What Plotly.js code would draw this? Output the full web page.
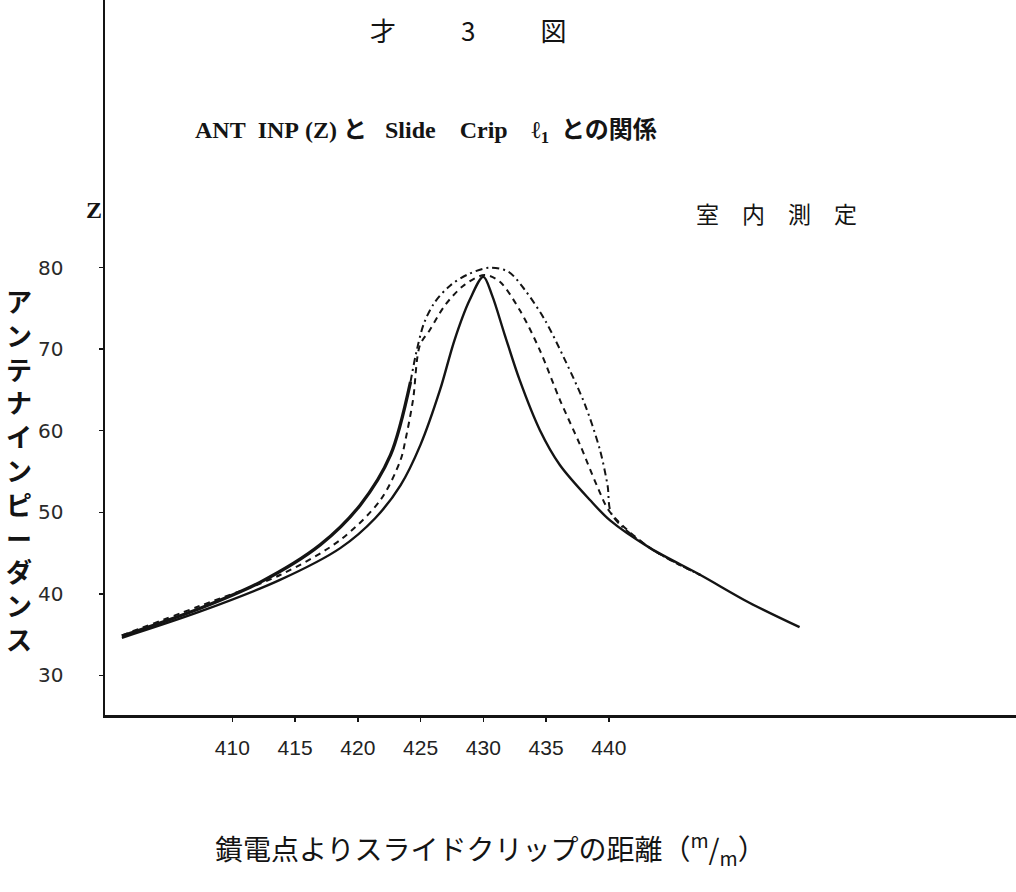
<!DOCTYPE html>
<html>
<head>
<meta charset="utf-8">
<script src="https://cdn.plot.ly/plotly-3.0.1.min.js"></script>
<style>html,body{margin:0;padding:0;background:#fff;}</style>
</head>
<body>
<div id="chart" style="width:1016px;height:892px;"></div>
<script>
// ---- data ----
const xTicks = [410, 415, 420, 425, 430, 435, 440];
const yTicks = [30, 40, 50, 60, 70, 80];

// narrow solid curve
const solidX = [401.2, 407.4, 413.8, 418.6, 421.4, 423.4, 425.0, 426.55, 427.7, 428.9, 430.0, 430.7, 431.7, 432.9, 434.5, 436.1, 438.5, 440.1, 443.3, 447.3, 451.2, 455.2];
const solidY = [34.6, 37.8, 41.7, 45.6, 49.3, 53.3, 58.3, 65.0, 71.1, 76.0, 78.9, 76.6, 71.8, 66.2, 60.1, 55.8, 51.5, 49.0, 45.6, 42.3, 38.9, 35.9];

// thick solid (left part) ending at the blob
const thickX = [401.2, 407.4, 412.2, 417.0, 420.2, 422.6, 424.2];
const thickY = [34.8, 38.2, 41.4, 46.0, 50.9, 57.0, 66.0];

// dash-dot continuation (outer wide curve)
const dashDotX = [424.2, 424.7, 425.3, 426.15, 427.35, 428.8, 430.5, 432.0, 433.3, 434.9, 436.5, 438.1, 439.3, 439.9, 440.25, 443.3, 447.3];
const dashDotY = [66.0, 69.9, 73.3, 75.8, 77.8, 79.2, 80.0, 79.5, 77.3, 73.6, 68.7, 63.2, 57.6, 53.3, 49.7, 45.6, 42.3];

// dashed curve (inner wide curve)
const dashX = [401.2, 407.4, 413.8, 418.6, 421.8, 423.4, 423.8, 424.4, 424.95, 425.75, 426.95, 428.5, 430.1, 431.3, 432.9, 434.5, 436.1, 437.7, 439.1, 440.1, 443.3, 447.3];
const dashY = [34.9, 38.5, 42.3, 46.6, 51.5, 56.4, 58.9, 63.8, 70.5, 72.4, 75.4, 77.9, 79.1, 78.3, 74.8, 69.9, 63.8, 58.3, 53.1, 50.0, 45.6, 42.3];

// ---- helpers for placing text in page pixels ----
const L = 105, W = 911, H = 715;
const px = x => (x - L) / W;
const py = y => (H - y) / H;

const ink = '#141414';
const sm = 0.9;

const traces = [
  {x: solidX, y: solidY, mode: 'lines', line: {color: ink, width: 2.4, shape: 'spline', smoothing: sm}, hoverinfo: 'skip'},
  {x: thickX, y: thickY, mode: 'lines', line: {color: ink, width: 3.3, shape: 'spline', smoothing: sm}, hoverinfo: 'skip'},
  {x: dashDotX, y: dashDotY, mode: 'lines', line: {color: ink, width: 2.0, dash: '7px,4px,2px,4px', shape: 'spline', smoothing: sm}, hoverinfo: 'skip'},
  {x: dashX, y: dashY, mode: 'lines', line: {color: ink, width: 2.0, dash: '6px,5px', shape: 'spline', smoothing: sm}, hoverinfo: 'skip'}
];

const jp = '"Noto Sans CJK JP", "Noto Sans CJK SC", sans-serif';

const layout = {
  width: 1016, height: 892,
  margin: {l: 105, r: 0, t: 0, b: 177, pad: 0},
  paper_bgcolor: '#fff', plot_bgcolor: '#fff',
  showlegend: false,
  xaxis: {
    range: [399.855, 472.445], showgrid: false, zeroline: false,
    showline: true, linecolor: ink, linewidth: 2.5,
    ticks: 'outside', ticklen: 4, tickwidth: 1.5, tickcolor: ink,
    tickvals: xTicks, ticktext: xTicks.map(String),
    tickfont: {family: '"Liberation Sans", Arial, sans-serif', size: 21, color: '#222'},
    ticklabelstandoff: 8
  },
  yaxis: {
    range: [25.126, 112.845], showgrid: false, zeroline: false,
    showline: true, linecolor: ink, linewidth: 2.5,
    ticks: 'outside', ticklen: 4, tickwidth: 1.5, tickcolor: ink,
    tickvals: yTicks, ticktext: yTicks.map(String),
    tickfont: {family: '"DejaVu Sans", sans-serif', size: 20, color: '#2a2a2a'},
    ticklabelstandoff: 31
  },
  annotations: [
    {text: '才\u3000\u3000\u20023\u3000\u3000\u2002図', xref: 'paper', yref: 'paper', x: px(468), y: py(29),
     xanchor: 'center', yanchor: 'middle', showarrow: false,
     font: {family: jp, size: 26, color: ink}},
    {text: 'ANT\u00a0\u00a0INP\u00a0(Z)\u00a0と\u00a0\u00a0\u00a0Slide\u00a0\u00a0\u00a0\u00a0Crip\u00a0\u00a0\u00a0\u00a0ℓ<sub>1</sub>\u00a0\u00a0との関係',
     xref: 'paper', yref: 'paper', x: px(426), y: py(132),
     xanchor: 'center', yanchor: 'middle', showarrow: false,
     font: {family: '"Liberation Serif", "Noto Sans CJK JP", serif', size: 24, color: ink, weight: 'bold'}},
    {text: '<b>Z</b>', xref: 'paper', yref: 'paper', x: px(94), y: py(210),
     xanchor: 'center', yanchor: 'middle', showarrow: false,
     font: {family: '"Liberation Serif", serif', size: 24, color: ink}},
    {text: '室\u3000内\u3000測\u3000定', xref: 'paper', yref: 'paper', x: px(776), y: py(213),
     xanchor: 'center', yanchor: 'middle', showarrow: false,
     font: {family: jp, size: 23, color: ink}},
    {text: 'ア<br>ン<br>テ<br>ナ<br>イ<br>ン<br>ピ<br>ー<br>ダ<br>ン<br>ス', xref: 'paper', yref: 'paper',
     x: px(19), y: py(470), xanchor: 'center', yanchor: 'middle', showarrow: false,
     font: {family: jp, size: 26, color: ink, weight: 'bold'}},
    {text: '鐀電点よりスライドクリップの距離（<sup>m</sup>/<sub>m</sub>）', xref: 'paper', yref: 'paper',
     x: px(490), y: py(848), xanchor: 'center', yanchor: 'middle', showarrow: false,
     font: {family: jp, size: 28, color: ink}}
  ]
};

Plotly.newPlot('chart', traces, layout, {staticPlot: true, displayModeBar: false});
</script>
</body>
</html>
